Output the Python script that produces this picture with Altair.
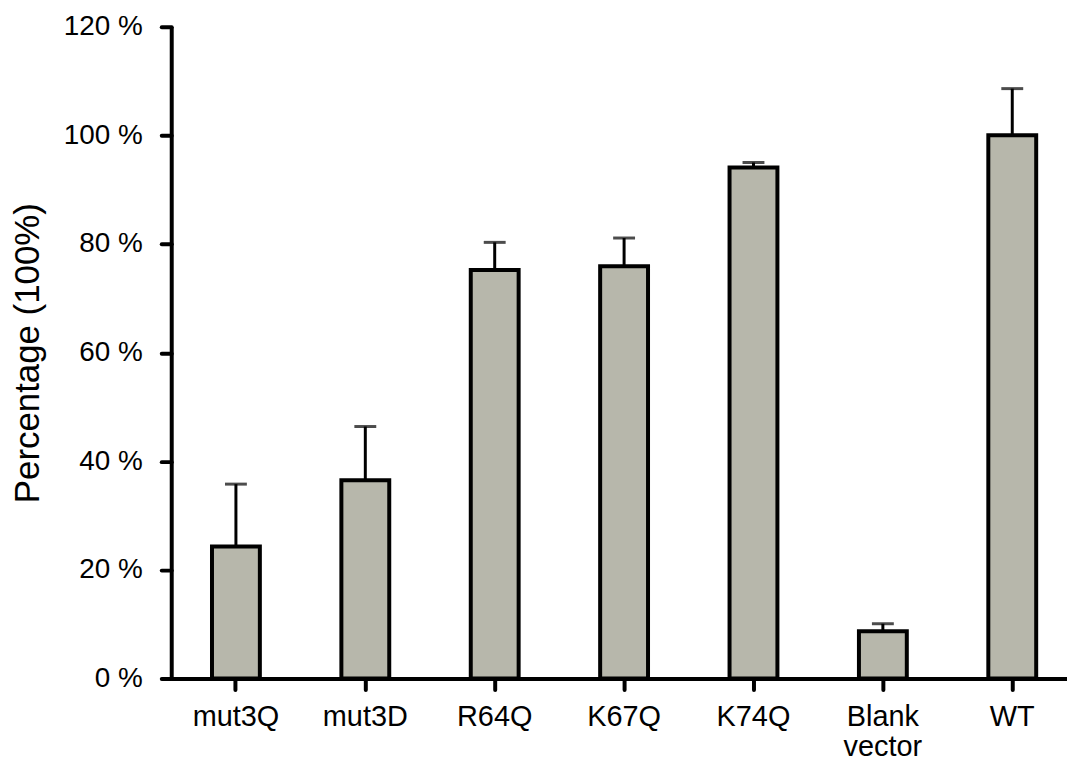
import altair as alt
import pandas as pd

categories = ["mut3Q", "mut3D", "R64Q", "K67Q", "K74Q", "Blank vector", "WT"]
means = [24.3, 36.5, 75.2, 75.9, 94.1, 8.7, 100.0]
errors = [11.5, 9.9, 5.1, 5.2, 0.9, 1.4, 8.6]
y_ticks = [0, 20, 40, 60, 80, 100, 120]

df = pd.DataFrame({"cat": categories, "mean": means, "err": errors})
df["upper"] = df["mean"] + df["err"]

FONT = "Liberation Sans"

x_enc = alt.X(
    "cat:N",
    sort=categories,
    scale=alt.Scale(range=[0, 910], paddingInner=0.63, paddingOuter=0.315),
    axis=alt.Axis(
        title=None,
        labelAngle=0,
        labelFont=FONT,
        labelFontSize=29,
        labelColor="black",
        labelPadding=13,
        labelExpr="split(datum.label, ' ')",
        labelLineHeight=30,
        domainColor="black",
        domainWidth=4,
        tickColor="black",
        tickWidth=4,
        tickSize=11,
        tickCap="round",
        grid=False,
    ),
)

y_scale = alt.Scale(domain=[0, 120], nice=False)
y_axis = alt.Axis(
    title="Percentage (100%)",
    titleFont=FONT,
    titleFontSize=35,
    titleFontWeight="normal",
    titleColor="black",
    titlePadding=18,
    values=y_ticks,
    labelExpr="datum.value + ' %'",
    labelFont=FONT,
    labelFontSize=28,
    labelColor="black",
    labelPadding=19,
    domainColor="black",
    domainWidth=4,
    tickColor="black",
    tickWidth=4,
    tickSize=10,
    tickCap="round",
    grid=False,
)

base = alt.Chart(df)

err_line = base.mark_rule(color="black", strokeWidth=3).encode(
    x=x_enc,
    y=alt.Y("mean:Q", scale=y_scale, axis=y_axis),
    y2="upper:Q",
)

err_cap = base.mark_tick(color="black", thickness=3, size=22).encode(
    x=x_enc,
    y=alt.Y("upper:Q", scale=y_scale, axis=y_axis),
)

bars = base.mark_bar(fill="#b7b7ab", stroke="black", strokeWidth=4).encode(
    x=x_enc,
    y=alt.Y("mean:Q", scale=y_scale, axis=y_axis),
)

chart = (
    alt.layer(err_line, err_cap, bars)
    .properties(
        width=900,
        height=655,
        background="white",
        autosize=alt.AutoSizeParams(type="none"),
        padding={"left": 164, "top": 17, "right": 0, "bottom": 81},
    )
    .configure_view(strokeWidth=0, stroke="transparent")
    .configure_axis(grid=False)
)

chart.save("out.html", embed_options={"renderer": "svg", "actions": False})
